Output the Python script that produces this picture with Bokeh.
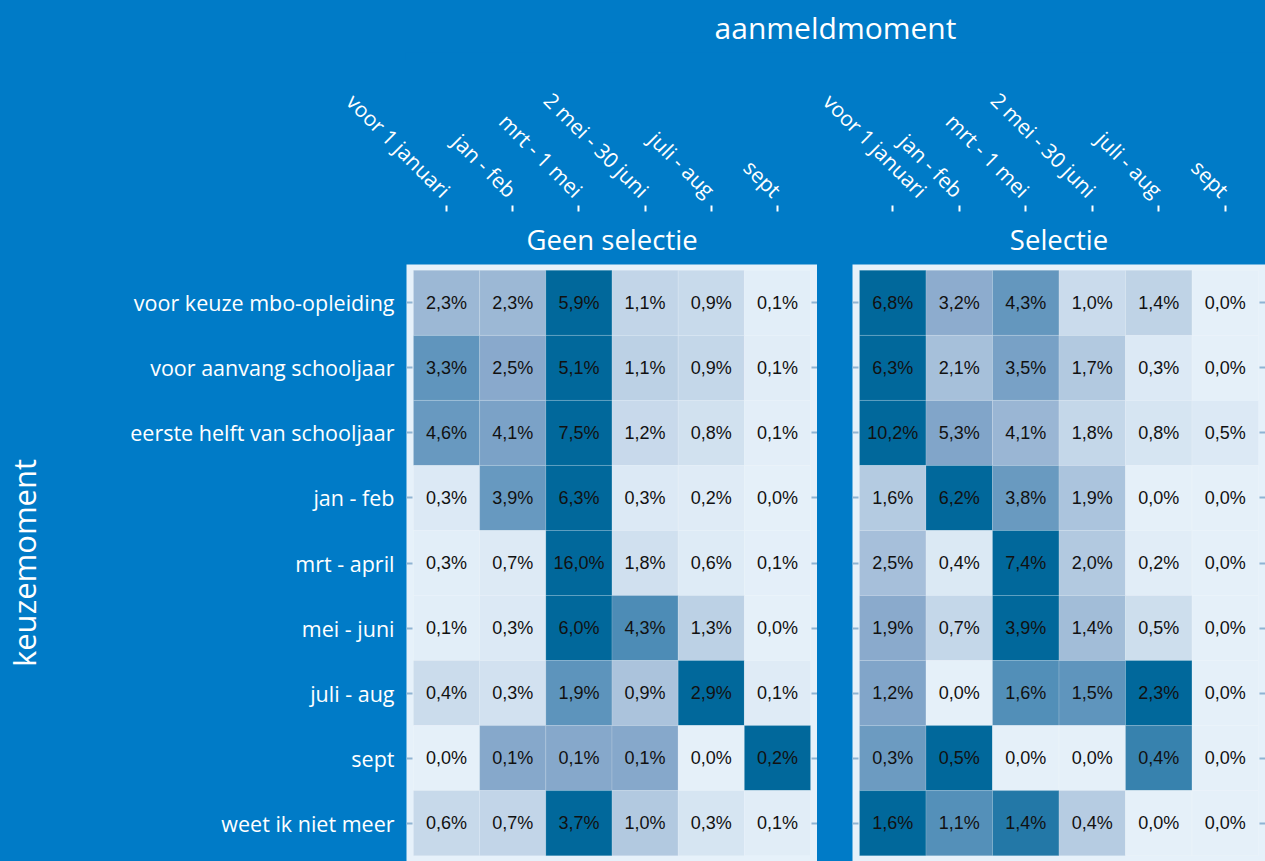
import math
from bokeh.plotting import figure
from bokeh.models import ColumnDataSource, FactorRange, Title, LinearColorMapper, CategoricalAxis, Range1d
from bokeh.layouts import column, row
from bokeh.embed import file_html
from bokeh.resources import INLINE
from bokeh.core.properties import value
from bokeh.transform import transform

# ---------------- data ----------------
cols = ["voor 1 januari", "jan - feb", "mrt - 1 mei", "2 mei - 30 juni", "juli - aug", "sept"]
rows = ["voor keuze mbo-opleiding", "voor aanvang schooljaar", "eerste helft van schooljaar",
        "jan - feb", "mrt - april", "mei - juni", "juli - aug", "sept", "weet ik niet meer"]

geen_selectie = [
    [2.3, 2.3, 5.9, 1.1, 0.9, 0.1],
    [3.3, 2.5, 5.1, 1.1, 0.9, 0.1],
    [4.6, 4.1, 7.5, 1.2, 0.8, 0.1],
    [0.3, 3.9, 6.3, 0.3, 0.2, 0.0],
    [0.3, 0.7, 16.0, 1.8, 0.6, 0.1],
    [0.1, 0.3, 6.0, 4.3, 1.3, 0.0],
    [0.4, 0.3, 1.9, 0.9, 2.9, 0.1],
    [0.0, 0.1, 0.1, 0.1, 0.0, 0.2],
    [0.6, 0.7, 3.7, 1.0, 0.3, 0.1],
]
selectie = [
    [6.8, 3.2, 4.3, 1.0, 1.4, 0.0],
    [6.3, 2.1, 3.5, 1.7, 0.3, 0.0],
    [10.2, 5.3, 4.1, 1.8, 0.8, 0.5],
    [1.6, 6.2, 3.8, 1.9, 0.0, 0.0],
    [2.5, 0.4, 7.4, 2.0, 0.2, 0.0],
    [1.9, 0.7, 3.9, 1.4, 0.5, 0.0],
    [1.2, 0.0, 1.6, 1.5, 2.3, 0.0],
    [0.3, 0.5, 0.0, 0.0, 0.4, 0.0],
    [1.6, 1.1, 1.4, 0.4, 0.0, 0.0],
]
panel_titles = ["Geen selectie", "Selectie"]
title_text = "aanmeldmoment"
y_title = "keuzemoment"

# ---------------- style ----------------
BLUE = "#007BC7"
PANEL = "#E6F1FA"
TICK = "#8FB4D2"
FONT = "Open Sans"

def make_palette(stops, n=256):
    out = []
    for i in range(n):
        t = i / (n - 1)
        for (t0, c0), (t1, c1) in zip(stops[:-1], stops[1:]):
            if t0 <= t <= t1:
                f = (t - t0) / (t1 - t0)
                c = [round(a + (b - a) * f) for a, b in zip(c0, c1)]
                out.append("#%02x%02x%02x" % tuple(c))
                break
    return out

palette = make_palette([(0.0, (229, 240, 249)), (0.5, (135, 168, 203)), (1.0, (1, 104, 155))])
mapper = LinearColorMapper(palette=palette, low=0, high=1)

TOTAL_W = 1265
TOTAL_H = 861
HEADER_H = 60
H = TOTAL_H - HEADER_H
TOP = 264 - HEADER_H
LEFT = 404
GAP = 35
W = 413
BG = {"background-color": BLUE}


def panel(name, data, left_border, first):
    xs, ys, shares, labels = [], [], [], []
    for r, vals in zip(rows, data):
        m = max(vals) if max(vals) > 0 else 1
        for c, v in zip(cols, vals):
            xs.append(c)
            ys.append(r)
            shares.append(v / m)
            labels.append(("%.1f%%" % v).replace(".", ","))
    src = ColumnDataSource(dict(col=xs, row=ys, share=shares, label=labels))

    x_range = FactorRange(factors=cols, range_padding=0.105, range_padding_units="absolute")
    y_range = FactorRange(factors=list(reversed(rows)), range_padding=0.09, range_padding_units="absolute")
    p = figure(width=left_border + W, height=H, x_range=x_range, y_range=y_range,
               x_axis_location="above", output_backend="svg", toolbar_location=None,
               min_border_left=left_border, min_border_right=0, min_border_top=TOP,
               min_border_bottom=0, styles=BG)
    p.add_layout(CategoricalAxis(), "right")
    p.rect(x="col", y="row", width=1, height=1, source=src,
           fill_color=transform("share", mapper), line_color="white", line_alpha=0.15, line_width=1)
    p.text(x="col", y="row", text="label", source=src, text_align="center", text_baseline="middle",
           text_font=value("Liberation Sans"), text_font_size="18px", text_color="#111111")

    p.grid.visible = False
    p.outline_line_color = None
    p.background_fill_color = PANEL
    p.border_fill_color = BLUE

    xa = p.xaxis[0]
    xa.major_label_orientation = -math.pi / 4
    xa.major_label_text_font_size = "21px"
    xa.major_label_text_font = FONT
    xa.major_label_text_color = "white"
    xa.axis_line_color = None
    xa.major_tick_line_color = "white"
    xa.major_tick_line_width = 2
    xa.major_tick_out = 6
    xa.major_tick_in = 0
    xa.major_label_standoff = 12

    for ya in p.yaxis:
        ya.axis_line_color = None
        ya.major_tick_line_color = TICK
        ya.major_tick_line_width = 2
        ya.major_tick_in = 6
        ya.major_tick_out = 0
    left_ax = p.left[0]
    right_ax = p.right[0]
    right_ax.major_label_text_color = None
    right_ax.major_label_text_font_size = "6px"
    right_ax.major_label_standoff = 0
    if first:
        left_ax.major_label_text_font_size = "21.5px"
        left_ax.major_label_text_font = FONT
        left_ax.major_label_text_color = "white"
        left_ax.major_label_standoff = 12
        left_ax.axis_label = y_title
        left_ax.axis_label_text_font = FONT
        left_ax.axis_label_text_font_size = "31px"
        left_ax.axis_label_text_font_style = "normal"
        left_ax.axis_label_text_color = "white"
        left_ax.axis_label_standoff = 82
    else:
        left_ax.major_label_text_color = None
        left_ax.major_label_text_font_size = "6px"
        left_ax.major_label_standoff = 0

    strip = Title(text=name, align="center", text_font_size="27.5px", text_color="white",
                  text_font=FONT, text_font_style="normal", standoff=14)
    p.above = [strip] + list(p.above)
    return p


left = panel(panel_titles[0], geen_selectie, LEFT, True)
right = panel(panel_titles[1], selectie, GAP, False)

header = figure(width=TOTAL_W, height=HEADER_H, x_range=Range1d(0, 1), y_range=Range1d(0, 1),
                x_axis_location=None, y_axis_location=None, toolbar_location=None, output_backend="svg",
                min_border_left=405, min_border_right=0, min_border_top=0, min_border_bottom=0,
                title=title_text, styles=BG)
header.title.align = "center"
header.title.text_font = FONT
header.title.text_font_size = "30px"
header.title.text_font_style = "normal"
header.title.text_color = "white"
header.title.standoff = 9
header.grid.visible = False
header.outline_line_color = None
header.background_fill_color = BLUE
header.border_fill_color = BLUE

layout = column(header, row(left, right, styles=BG), styles=BG)
open("out.html", "w").write(file_html(layout, INLINE))
